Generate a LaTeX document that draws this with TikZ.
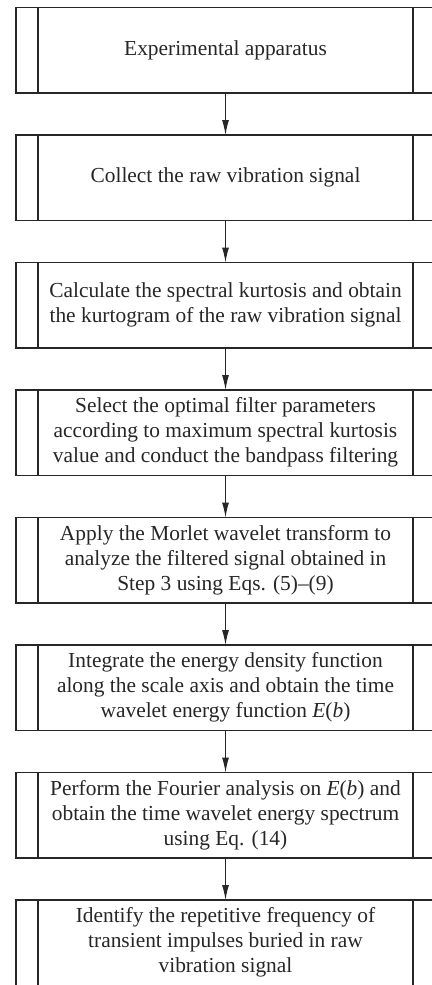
\documentclass[tikz,border=0pt]{standalone}
\usepackage{fontspec}
\setmainfont{Liberation Serif}
\usetikzlibrary{arrows.meta}
\begin{document}
\begin{tikzpicture}[x=1pt,y=1pt,
  procbox/.style={draw=black!85, line width=1.3pt, outer sep=0pt, minimum width=419pt, minimum height=85.5pt, inner sep=0pt, align=center, font=\fontsize{21.4}{25}\selectfont, text=black!85},
  flow/.style={draw=black!85, line width=1.1pt, -{Latex[length=15pt,width=7pt]}}]
\useasboundingbox (0,0) rectangle (431,-985);
\node[procbox] (b1) at (225.5,-50.25) {Experimental apparatus};
\node[procbox] (b2) at (225.5,-177.75) {Collect the raw vibration signal};
\node[procbox] (b3) at (225.5,-305.25) {Calculate the spectral kurtosis and obtain\\the kurtogram of the raw vibration signal};
\node[procbox] (b4) at (225.5,-432.75) {Select the optimal filter parameters\\according to maximum spectral kurtosis\\value and conduct the bandpass filtering};
\node[procbox] (b5) at (225.5,-560.25) {Apply the Morlet wavelet transform to\\analyze the filtered signal obtained in\\Step 3 using Eqs. (5)–(9)};
\node[procbox] (b6) at (225.5,-687.75) {Integrate the energy density function\\along the scale axis and obtain the time\\wavelet energy function \textit{E}(\textit{b})};
\node[procbox] (b7) at (225.5,-815.25) {Perform the Fourier analysis on \textit{E}(\textit{b}) and\\obtain the time wavelet energy spectrum\\using Eq. (14)};
\node[procbox] (b8) at (225.5,-942.75) {Identify the repetitive frequency of\\transient impulses buried in raw\\vibration signal};
\foreach \n in {b1,b2,b3,b4,b5,b6,b7,b8}{
  \draw[line width=1.3pt, draw=black!85] ([xshift=22pt]\n.north west) -- ([xshift=22pt]\n.south west)
    ([xshift=-22pt]\n.north east) -- ([xshift=-22pt]\n.south east);
}
\draw[flow] (b1) -- (b2);
\draw[flow] (b2) -- (b3);
\draw[flow] (b3) -- (b4);
\draw[flow] (b4) -- (b5);
\draw[flow] (b5) -- (b6);
\draw[flow] (b6) -- (b7);
\draw[flow] (b7) -- (b8);
\end{tikzpicture}
\end{document}
